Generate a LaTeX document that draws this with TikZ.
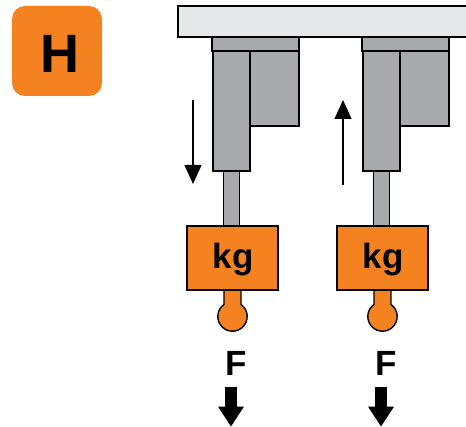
\documentclass[tikz,border=0pt]{standalone}
\usepackage{fontspec}
\setmainfont{Liberation Sans}
\usetikzlibrary{positioning,arrows.meta}
\definecolor{badgeorange}{RGB}{245,130,32}
\definecolor{plategray}{RGB}{230,231,232}
\definecolor{cylgray}{RGB}{167,169,172}
\tikzset{
	part/.style={rectangle, draw=black, line width=1.4pt, inner sep=0pt, outer sep=0pt},
	cyl/.style={part, fill=cylgray},
	weight/.style={part, fill=badgeorange},
	bigtext/.style={font=\fontsize{35}{35}\selectfont\bfseries, inner sep=0pt},
	motion/.style={line width=1.2pt, -{Triangle[length=19pt,width=17pt]}},
	force/.style={line width=12.6pt, -{Triangle[length=20pt,width=24.4pt]}}
}

\begin{document}
\begin{tikzpicture}[x=1pt,y=1pt]
	\clip (0,0) rectangle (466,427);
	\node[rectangle, fill=badgeorange, rounded corners=13pt, minimum width=90pt, minimum height=90pt, inner sep=0pt] (badge) at (57,376) {};
	\node[font=\fontsize{54}{54}\selectfont\bfseries, inner sep=0pt] (letter) at (59.5,373) {H};
	\node[part, fill=plategray, minimum width=310pt, minimum height=31pt, anchor=north west] (plate) at (178,421) {};

	\foreach \i/\dx in {a/0,b/150} {
		\node[cyl, minimum width=87pt, minimum height=13.5pt, anchor=north west] (head\i) at (212+\dx,389.5) {};
		\node[cyl, minimum width=37pt, minimum height=120pt, anchor=north west] (body\i) at (213+\dx,376) {};
		\node[cyl, minimum width=49pt, minimum height=75pt, anchor=north west] (side\i) at (body\i.north east) {};
		\node[cyl, minimum width=15.5pt, minimum height=55pt, below=0pt of body\i] (rod\i) {};
		\draw[weight] (232.5+\dx-8.5,137) -- ++(0,-14.5) arc[start angle=125.3, end angle=414.7, radius=14.7] -- ++(0,14.5);
		\node[weight, minimum width=91pt, minimum height=64pt, below=0pt of rod\i, xshift=1pt] (mass\i) {};
		\node[bigtext] (kg\i) at (233+\dx,167) {kg};
		\node[bigtext] (F\i) at (236.5+\dx,63.5) {F};
		\coordinate (ftop\i) at (231+\dx,40);
		\coordinate (fend\i) at (231+\dx,0.3);
		\draw[force] (ftop\i) -- (fend\i);
	}

	\coordinate (downa) at (193,327);
	\coordinate (downb) at (193,243);
	\coordinate (upa) at (343,242);
	\coordinate (upb) at (343,327);
	\draw[motion] (downa) -- (downb);
	\draw[motion] (upa) -- (upb);
\end{tikzpicture}
\end{document}
